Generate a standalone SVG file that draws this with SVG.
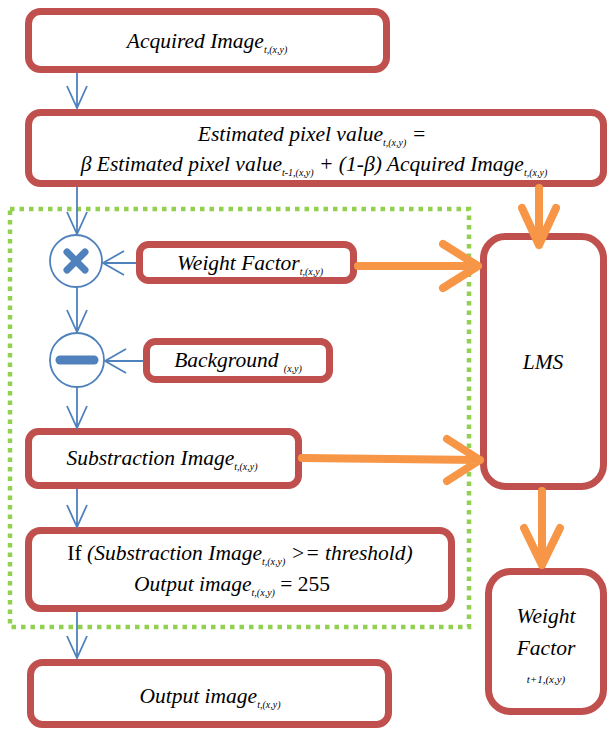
<svg xmlns="http://www.w3.org/2000/svg" width="608" height="729" viewBox="0 0 608 729">
<style>
.box{fill:#fff;stroke:#c0504d;stroke-width:7}
.t{font-family:"Liberation Serif","Noto Sans",serif;font-style:italic;font-size:21.5px;fill:#000;text-anchor:middle}
.up{font-style:normal}
.sub{font-size:10px}
.blue{stroke:#4f81bd;stroke-width:1.8;fill:none}
.orng{stroke:#f79646;stroke-width:8;fill:none;stroke-linecap:round;stroke-linejoin:round}
.grn{fill:none;stroke:#92d050;stroke-width:4.5;stroke-dasharray:4.5 5}
</style>
<rect class="grn" x="10" y="209" width="459" height="418"/>
<g id="acquired">
<rect class="box" x="28.5" y="11.5" width="358" height="58" rx="12"/>
<text class="t" x="207" y="48">Acquired Image<tspan class="sub" dy="5">t,(x,y)</tspan></text>
</g>
<g id="estimated">
<rect class="box" x="28.5" y="112.5" width="575" height="71" rx="12"/>
<text class="t" x="312" y="141">Estimated pixel value<tspan class="sub" dy="5">t,(x,y)</tspan><tspan dy="-5"> =</tspan></text>
<text class="t" x="314" y="171">β Estimated pixel value<tspan class="sub" dy="5">t-1,(x,y)</tspan><tspan dy="-5">  + (1-β)  Acquired Image</tspan><tspan class="sub" dy="5">t,(x,y)</tspan></text>
</g>
<g id="multiply">
<circle cx="76" cy="261" r="26" fill="#fff" stroke="#4f81bd" stroke-width="1.8"/>
<path d="M67 252 L85 270 M85 252 L67 270" stroke="#4f81bd" stroke-width="7" stroke-linecap="round"/>
</g>
<g id="weight">
<rect class="box" x="139.5" y="244.5" width="214" height="36" rx="9"/>
<text class="t" x="250" y="270">Weight Factor<tspan class="sub" dy="5">t,(x,y)</tspan></text>
</g>
<g id="subtract">
<circle cx="77" cy="360" r="27" fill="#fff" stroke="#4f81bd" stroke-width="1.8"/>
<path d="M60 360 L94 360" stroke="#4f81bd" stroke-width="9" stroke-linecap="round"/>
</g>
<g id="background">
<rect class="box" x="146.5" y="341.5" width="183" height="38" rx="9"/>
<text class="t" x="238" y="367">Background <tspan class="sub" dy="5">(x,y)</tspan></text>
</g>
<g id="substraction">
<rect class="box" x="28.5" y="431.5" width="270" height="54" rx="10"/>
<text class="t" x="162" y="465">Substraction Image<tspan class="sub" dy="5">t,(x,y)</tspan></text>
</g>
<g id="ifbox">
<rect class="box" x="28.5" y="530.5" width="423" height="78" rx="12"/>
<text class="t" x="240" y="560"><tspan class="up">If </tspan>(Substraction Image<tspan class="sub" dy="5">t,(x,y)</tspan><tspan dy="-5"> &gt;= threshold)</tspan></text>
<text class="t" x="232" y="591">Output image<tspan class="sub" dy="5">t,(x,y)</tspan><tspan class="up" dy="-5"> = 255</tspan></text>
</g>
<g id="output">
<rect class="box" x="30.5" y="662.5" width="358" height="62" rx="12"/>
<text class="t" x="210" y="703">Output image<tspan class="sub" dy="5">t,(x,y)</tspan></text>
</g>
<g id="lms">
<rect class="box" x="483.5" y="236.5" width="120" height="250" rx="22"/>
<text class="t" x="543" y="369">LMS</text>
</g>
<g id="weightnext">
<rect class="box" x="488.5" y="571.5" width="115" height="140" rx="22"/>
<text class="t" x="546" y="623">Weight</text>
<text class="t" x="546" y="655">Factor</text>
<text class="t" x="546" y="683" style="font-size:11px">t+1,(x,y)</text>
</g>
<g id="connectors">
<path class="blue" d="M77 73 V108 M67 86 L77 108 L87 86"/>
<path class="blue" d="M77 187 V234 M67 212 L77 234 L87 212"/>
<path class="blue" d="M77 287 V332 M67 310 L77 332 L87 310"/>
<path class="blue" d="M77 387 V428 M67 406 L77 428 L87 406"/>
<path class="blue" d="M77 489 V527 M67 505 L77 527 L87 505"/>
<path class="blue" d="M77 612 V658 M67 636 L77 658 L87 636"/>
<path class="blue" d="M136 263 H103 M124 251 L103 263 L124 275"/>
<path class="blue" d="M143 361 H105 M126 349 L105 361 L126 373"/>
<path class="orng" d="M539 188 V245 M522 208 L539 245 L556 208"/>
<path class="orng" d="M358 266 H478 M443 244 L478 266 L443 288"/>
<path class="orng" d="M302 458 L480 460 M447 439 L480 460 L447 481"/>
<path class="orng" d="M542 491 V565 M524 528 L542 565 L560 528"/>
</g>
</svg>
